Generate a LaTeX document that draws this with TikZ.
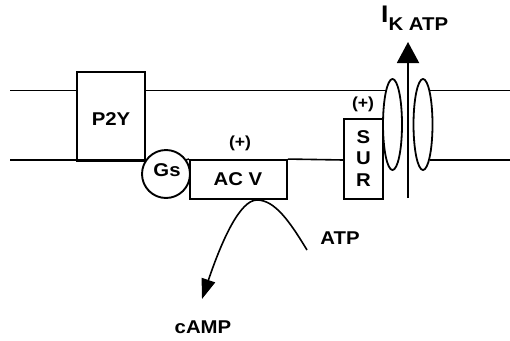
\documentclass[tikz,border=0pt]{standalone}
\usepackage{fontspec}
\setmainfont[FakeStretch=1.1]{Liberation Sans}
\usetikzlibrary{shapes.geometric,arrows.meta,calc}
\begin{document}
\begin{tikzpicture}[x=1pt,y=-1pt,
  lab/.style={font=\fontsize{18.5}{21.5}\selectfont\bfseries, inner sep=0pt},
  plus/.style={font=\fontsize{16}{16}\selectfont\bfseries, inner sep=0pt},
  box/.style={draw, line width=1.9pt, rectangle, inner sep=0pt},
  mem/.style={line width=1.6pt},
  chan/.style={draw, line width=1.8pt, ellipse, inner sep=0pt, minimum width=19pt, minimum height=91pt}]
\useasboundingbox (0,0) rectangle (510,340);
% proteins
\node[box, minimum width=68pt, minimum height=89pt] (p2y) at (111,116.5) {};
\node[lab] at (111,119) {P2Y};
\node[box, circle, minimum size=48pt] (gs) at (166,174) {};
\node[lab] at (167,170.5) {Gs};
\node[box, minimum width=97pt, minimum height=39pt] (acv) at (238.5,179.5) {};
\node[lab] at (238,179.5) {AC V};
\node[box, minimum width=39pt, minimum height=80pt] (sur) at (363.5,159) {};
\node[lab, align=center] at (363.5,158.5) {S\\U\\R};
\node[chan] (e1) at (392.5,124.5) {};
\node[chan] (e2) at (423,124.5) {};
\node[plus] (p1) at (240,143) {(+)};
\node[plus] (p2) at (363,104) {(+)};
% membrane
\coordinate (tl) at (10,90.5);
\coordinate (bl) at (10,160);
\coordinate (tr) at (510,90.5);
\coordinate (br) at (510,160);
\coordinate (e1t) at (386.3,90.5);
\coordinate (e2t) at (429.5,90.5);
\coordinate (e2b) at (429.5,160);
\coordinate (gsl) at (146.5,160);
\coordinate (gsr) at (185.5,160);
\draw[mem] (tl) -- (tl -| p2y.west);
\draw[mem] (p2y.east |- tl) -- (e1t);
\draw[mem] (e2t) -- (tr);
\draw[mem] (bl) -- (gsl);
\draw[mem] (gsr) -- (acv.north west);
\draw[mem] (acv.north east) -- (sur.west |- bl);
\draw[mem] (e2b) -- (br);
% K ATP current
\coordinate (ikb) at (408,198);
\coordinate (ikt) at (408,42);
\draw[line width=2pt, -{Triangle[length=21pt,width=22pt]}] (ikb) -- (ikt);
\node[anchor=base west, inner sep=0pt, font=\fontsize{24}{24}\selectfont\bfseries] (ik) at (381,22.5)
  {I\raisebox{-7.5pt}{\fontsize{18.5}{18.5}\selectfont K ATP}};
% ATP -> cAMP
\node[lab] (atp) at (340,238) {ATP};
\node[lab] (camp) at (203,327) {cAMP};
\coordinate (atps) at (307,250);
\coordinate (peak) at (257,200);
\coordinate (ctip) at (202,299);
\draw[line width=1.6pt, -{Triangle[length=20pt,width=14pt]}]
  (atps) .. controls (290,222) and (275,200) .. (peak)
         .. controls (240,200) and (222,240) .. (ctip);
\end{tikzpicture}
\end{document}
